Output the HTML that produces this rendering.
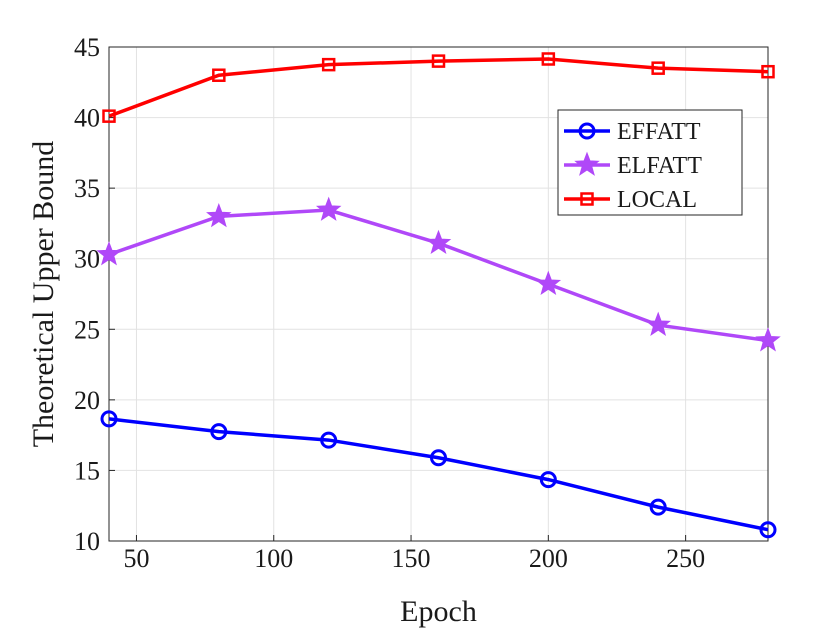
<!DOCTYPE html>
<html><head><meta charset="utf-8"><style>
body{margin:0;background:#fff;}
svg text{font-family:"Liberation Serif",serif;fill:#1a1a1a;}
</style></head><body>
<svg id="chart" width="840" height="630" xmlns="http://www.w3.org/2000/svg">
<rect width="840" height="630" fill="#fff"/>
<g id="grid"></g>
<g id="axes"></g>
<g id="series"></g>
<g id="legend"></g>
</svg>
<script>
const epochs=[40,80,120,160,200,240,280];
const effatt=[18.65,17.75,17.15,15.9,14.35,12.4,10.8];
const elfatt=[30.3,33.0,33.45,31.1,28.2,25.3,24.2];
const local=[40.1,43.0,43.75,44.0,44.15,43.5,43.25];
const xTicks=[50,100,150,200,250];
const yTicks=[10,15,20,25,30,35,40,45];
const NS="http://www.w3.org/2000/svg";
const L=109,R=768,T=47,B=541;
const xs=v=>L+(v-40)/(280-40)*(R-L);
const ys=v=>B-(v-10)/(45-10)*(B-T);
function mk(tag,attrs,parent,text){const e=document.createElementNS(NS,tag);for(const k in attrs)e.setAttribute(k,attrs[k]);if(text!==undefined)e.textContent=text;parent.appendChild(e);return e;}
const grid=document.getElementById('grid'),axes=document.getElementById('axes'),ser=document.getElementById('series'),leg=document.getElementById('legend');
xTicks.forEach(t=>{const l=mk('line',{x1:xs(t),x2:xs(t),y1:T,y2:B,stroke:'#e2e2e2','stroke-width':1},grid);

mk('line',{x1:xs(t),x2:xs(t),y1:B,y2:B-6,stroke:'#262626'},axes);
const tx=mk('text',{x:xs(t),y:B+26,'text-anchor':'middle','font-size':26},axes,t);
});
yTicks.forEach(t=>{const l=mk('line',{x1:L,x2:R,y1:ys(t),y2:ys(t),stroke:'#e2e2e2','stroke-width':1},grid);

mk('line',{x1:L,x2:L+6,y1:ys(t),y2:ys(t),stroke:'#262626'},axes);
const tx=mk('text',{x:L-9,y:ys(t)+9,'text-anchor':'end','font-size':26},axes,t);
});
const box=mk('rect',{x:L,y:T,width:R-L,height:B-T,fill:'none',stroke:'#262626','stroke-width':1},axes);

const xl=mk('text',{x:(L+R)/2,y:621,'text-anchor':'middle','font-size':30},axes,'Epoch');

const yl=mk('text',{x:0,y:0,'text-anchor':'middle','font-size':30,transform:`translate(53,${(T+B)/2}) rotate(-90)`},axes,'Theoretical Upper Bound');

function star(cx,cy,r){let p=[];for(let i=0;i<10;i++){const a=-Math.PI/2+i*Math.PI/5,rr=i%2?r*0.42:r;p.push((cx+rr*Math.cos(a)).toFixed(1)+','+(cy+rr*Math.sin(a)).toFixed(1));}return p.join(' ');}
function marker(type,x,y,col,g){
 if(type==='o')return mk('circle',{cx:x,cy:y,r:7,fill:'none',stroke:col,'stroke-width':3},g);
 if(type==='s')return mk('rect',{x:x-5.5,y:y-5.5,width:11,height:11,fill:'none',stroke:col,'stroke-width':2.5},g);
 return mk('polygon',{points:star(x,y,12),fill:col,stroke:col,'stroke-width':1},g);}
const S=[{name:'EFFATT',d:effatt,c:'#0000ff',m:'o'},{name:'ELFATT',d:elfatt,c:'#b048f8',m:'*'},{name:'LOCAL',d:local,c:'#ff0000',m:'s'}];
S.forEach(s=>{const g=mk('g',{},ser);
const pl=mk('polyline',{points:epochs.map((e,i)=>xs(e)+','+ys(s.d[i])).join(' '),fill:'none',stroke:s.c,'stroke-width':3.5},g);

epochs.forEach((e,i)=>{const m=marker(s.m,xs(e),ys(s.d[i]),s.c,g);});});
const lb=mk('rect',{x:558,y:110,width:184,height:105,fill:'#fff',stroke:'#262626','stroke-width':1},leg);

S.forEach((s,i)=>{const y=131+i*34;const g=mk('g',{},leg);
mk('line',{x1:564,x2:610,y1:y,y2:y,stroke:s.c,'stroke-width':3.5},g);marker(s.m,587,y,s.c,g);
mk('text',{x:617,y:y+8,'font-size':24,fill:'#000'},g,s.name);});
</script>
</body></html>
